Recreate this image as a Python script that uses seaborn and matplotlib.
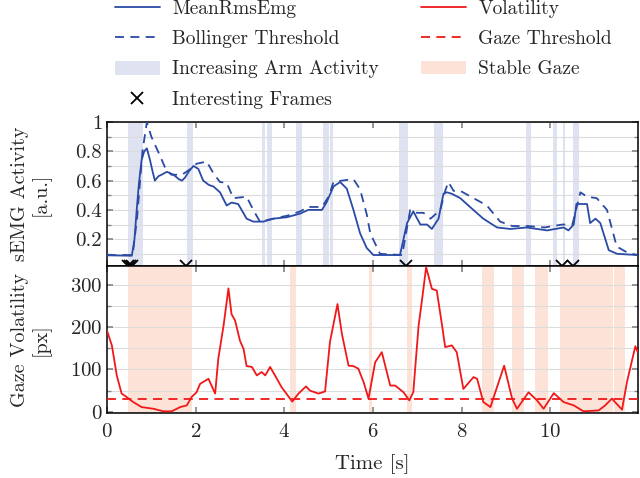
import matplotlib
matplotlib.use('Agg')
import matplotlib.pyplot as plt
import seaborn as sns
from matplotlib.lines import Line2D
from matplotlib.patches import Patch

# --- data ---
emg_t = [0.0, 0.56, 0.62, 0.67, 0.72, 0.78, 0.84, 0.90, 0.97, 1.03, 1.08, 1.16, 1.23, 1.35, 1.50,
         1.62, 1.69, 1.76, 1.84, 1.95, 2.06, 2.17, 2.30, 2.40, 2.55, 2.70, 2.81, 2.96, 3.15, 3.30,
         3.53, 3.75, 4.06, 4.36, 4.54, 4.85, 4.96, 5.11, 5.26, 5.41, 5.56, 5.71, 5.86, 6.01, 6.61,
         6.77, 6.91, 7.07, 7.22, 7.33, 7.48, 7.59, 7.67, 7.78, 7.97, 8.19, 8.49, 8.80, 9.10, 9.47,
         9.93, 10.30, 10.41, 10.53, 10.59, 10.83, 10.90, 11.02, 11.13, 11.32, 11.51, 11.96]
emg_v = [0.09, 0.087, 0.20, 0.40, 0.58, 0.74, 0.80, 0.82, 0.74, 0.66, 0.60, 0.63, 0.64, 0.66, 0.64,
         0.61, 0.60, 0.62, 0.66, 0.70, 0.68, 0.60, 0.57, 0.56, 0.52, 0.43, 0.45, 0.44, 0.34, 0.32,
         0.32, 0.34, 0.35, 0.375, 0.40, 0.40, 0.455, 0.56, 0.59, 0.545, 0.40, 0.24, 0.14, 0.092, 0.092,
         0.31, 0.39, 0.30, 0.30, 0.27, 0.34, 0.51, 0.52, 0.51, 0.48, 0.42, 0.34, 0.28, 0.27, 0.28,
         0.26, 0.28, 0.26, 0.30, 0.44, 0.44, 0.31, 0.34, 0.31, 0.125, 0.10, 0.092]

boll_t = [0.0, 0.58, 0.68, 0.80, 0.90, 1.0, 1.15, 1.31, 1.45, 1.69, 1.84, 2.02, 2.25, 2.40, 2.55,
          2.70, 2.85, 3.15, 3.30, 3.45, 3.60, 4.06, 4.36, 4.54, 4.85, 5.0, 5.11, 5.30, 5.56, 5.71,
          5.86, 5.94, 6.16, 6.66, 6.84, 6.99, 7.14, 7.30, 7.52, 7.63, 7.70, 7.82, 7.97, 8.27, 8.57,
          8.87, 9.14, 9.50, 9.87, 10.27, 10.50, 10.68, 10.83, 11.05, 11.28, 11.50, 11.73, 11.96]
boll_v = [0.092, 0.092, 0.35, 0.80, 1.0, 0.90, 0.80, 0.69, 0.64, 0.64, 0.67, 0.715, 0.73, 0.65, 0.59,
          0.585, 0.48, 0.49, 0.40, 0.32, 0.33, 0.36, 0.39, 0.42, 0.42, 0.49, 0.59, 0.60, 0.61, 0.54,
          0.37, 0.24, 0.10, 0.092, 0.40, 0.38, 0.38, 0.34, 0.40, 0.53, 0.59, 0.53, 0.53, 0.48, 0.43,
          0.32, 0.29, 0.29, 0.28, 0.30, 0.30, 0.52, 0.49, 0.48, 0.40, 0.15, 0.11, 0.092]

vol_t = [0.0, 0.11, 0.22, 0.33, 0.44, 0.59, 0.78, 1.05, 1.27, 1.46, 1.65, 1.80, 1.91, 2.02, 2.10,
         2.29, 2.44, 2.51, 2.63, 2.74, 2.81, 2.89, 3.00, 3.08, 3.15, 3.27, 3.38, 3.49, 3.57, 3.68,
         3.79, 3.94, 4.18, 4.32, 4.49, 4.58, 4.77, 4.92, 5.03, 5.20, 5.30, 5.45, 5.56, 5.67, 5.79,
         5.90, 6.05, 6.20, 6.39, 6.50, 6.69, 6.82, 6.91, 7.03, 7.10, 7.20, 7.33, 7.44, 7.56, 7.63,
         7.78, 7.89, 8.04, 8.27, 8.35, 8.49, 8.65, 8.76, 8.96, 9.14, 9.25, 9.51, 9.70, 9.85, 10.08,
         10.30, 10.53, 10.75, 11.09, 11.24, 11.39, 11.62, 11.73, 11.92, 11.98]
vol_v = [192, 157, 86, 43, 35, 23, 11, 7, 1, 1, 11, 15, 35, 46, 66,
         78, 43, 125, 204, 292, 231, 216, 168, 149, 108, 106, 86, 94, 86, 106,
         86, 58, 24, 43, 60, 50, 43, 48, 165, 255, 184, 109, 108, 102, 70,
         31, 117, 141, 62, 62, 46, 27, 46, 204, 259, 342, 291, 287, 204, 153,
         157, 141, 54, 82, 78, 23, 11, 46, 109, 31, 7, 46, 27, 7, 44,
         23, 15, 1, 3, 15, 31, 5, 70, 155, 140]

gaze_threshold = 30

arm_spans = [(0.47, 0.81), (1.80, 1.93), (3.49, 3.56), (3.60, 3.72), (4.27, 4.40), (4.87, 5.00),
             (5.03, 5.09), (6.59, 6.80), (7.38, 7.58), (9.45, 9.56), (10.07, 10.15),
             (10.28, 10.33), (10.52, 10.64)]
gaze_spans = [(0.47, 1.91), (4.13, 4.27), (5.90, 5.97), (6.76, 6.89), (8.47, 8.73), (9.13, 9.40),
              (9.66, 9.94), (10.21, 11.41), (11.43, 11.69)]
frames = [0.47, 0.52, 0.56, 1.78, 6.75, 10.26, 10.52]

blue = '#2a4aa6'
red = '#f01818'
blue_fill = '#dfe2f1'
red_fill = '#fde3d7'
dash = (0, (5, 3.5))

sns.set_theme(style='ticks')
plt.rcParams['font.family'] = ['cmr10', 'DejaVu Serif']
plt.rcParams['axes.formatter.use_mathtext'] = True
plt.rcParams['font.size'] = 15

fig = plt.figure(figsize=(6.4, 4.78), dpi=100)
ax1 = fig.add_axes([107 / 640, 1 - 266 / 478, 531 / 640, (266 - 122) / 478])
ax2 = fig.add_axes([107 / 640, 1 - 413 / 478, 531 / 640, (413 - 266) / 478])

for a, b in arm_spans:
    ax1.axvspan(a, b, color=blue_fill, lw=0, zorder=0)
for a, b in gaze_spans:
    ax2.axvspan(a, b, color=red_fill, lw=0, zorder=0)

sns.lineplot(x=emg_t, y=emg_v, ax=ax1, color=blue, lw=1.3, zorder=3)
sns.lineplot(x=boll_t, y=boll_v, ax=ax1, color=blue, lw=1.3, linestyle=dash, zorder=3)
sns.lineplot(x=vol_t, y=vol_v, ax=ax2, color=red, lw=1.3, zorder=3)
ax2.axhline(gaze_threshold, color=red, lw=1.3, linestyle=dash, zorder=3)

ax1.plot(frames, [0.017] * len(frames), 'x', color='black', ms=9, mew=1.3,
         clip_on=False, zorder=10)

ax1.set_xlim(0, 11.98)
ax2.set_xlim(0, 11.98)
ax1.set_ylim(0.017, 1.0)
ax2.set_ylim(-3, 345)

ax1.set_yticks([0.2, 0.4, 0.6, 0.8, 1.0])
ax1.set_yticklabels(['0.2', '0.4', '0.6', '0.8', '1'])
ax1.set_yticks([0.1, 0.3, 0.5, 0.7, 0.9], minor=True)
ax2.set_yticks([0, 100, 200, 300])
ax2.set_yticks([50, 150, 250], minor=True)
for ax in (ax1, ax2):
    ax.set_xticks([0, 2, 4, 6, 8, 10])
    ax.grid(True, axis='y', which='both', color='#dcdcdc', lw=0.8)
    ax.set_axisbelow(True)
    ax.tick_params(which='both', direction='in', top=True, right=True, length=4,
                   color='#888888', labelsize=15)
    ax.tick_params(which='minor', length=3)
    for s in ax.spines.values():
        s.set_color('black')
        s.set_linewidth(1.1)
ax1.tick_params(labelbottom=False)
ax2.tick_params(axis='x', pad=7)

ax1.set_ylabel('sEMG Activity\n[a.u.]', fontsize=14.5, linespacing=1.15)
ax2.set_ylabel('Gaze Volatility\n[px]', fontsize=14.5, linespacing=1.15)
ax1.yaxis.set_label_coords(-0.106, 0.5)
ax2.yaxis.set_label_coords(-0.106, 0.5)
ax2.set_xlabel('Time [s]', fontsize=15, labelpad=10)

handles = [
    Line2D([], [], color=blue, lw=1.3),
    Line2D([], [], color=blue, lw=1.3, linestyle=dash),
    Patch(facecolor=blue_fill, edgecolor='none'),
    Line2D([], [], color='black', marker='x', linestyle='none', ms=9, mew=1.3),
    Line2D([], [], color=red, lw=1.3),
    Line2D([], [], color=red, lw=1.3, linestyle=dash),
    Patch(facecolor=red_fill, edgecolor='none'),
]
labels = ['MeanRmsEmg', 'Bollinger Threshold', 'Increasing Arm Activity', 'Interesting Frames',
          'Volatility', 'Gaze Threshold', 'Stable Gaze']
fig.legend(handles, labels, ncol=2, loc='upper left', bbox_to_anchor=(115 / 640, 1.0),
           frameon=False, fontsize=14, handlelength=2.3, handletextpad=0.65,
           columnspacing=2.15, labelspacing=0.63, borderpad=0, borderaxespad=0)

fig.savefig('out.png', dpi=100)
